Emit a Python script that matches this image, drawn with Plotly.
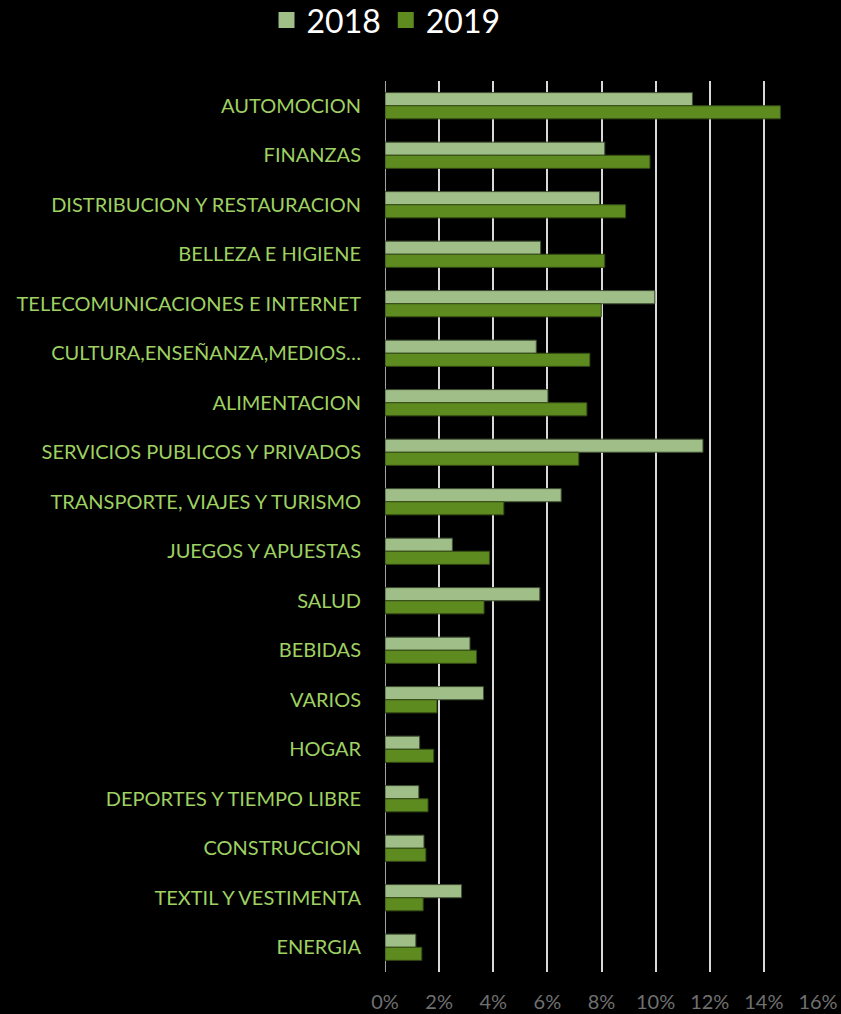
import plotly.graph_objects as go

categories = ["AUTOMOCION", "FINANZAS", "DISTRIBUCION Y RESTAURACION", "BELLEZA E HIGIENE",
              "TELECOMUNICACIONES E INTERNET", "CULTURA,ENSEÑANZA,MEDIOS…", "ALIMENTACION",
              "SERVICIOS PUBLICOS Y PRIVADOS", "TRANSPORTE, VIAJES Y TURISMO", "JUEGOS Y APUESTAS",
              "SALUD", "BEBIDAS", "VARIOS", "HOGAR", "DEPORTES Y TIEMPO LIBRE", "CONSTRUCCION",
              "TEXTIL Y VESTIMENTA", "ENERGIA"]
values_2018 = [11.36, 8.12, 7.93, 5.75, 9.97, 5.59, 6.02, 11.75, 6.51, 2.49,
               5.72, 3.14, 3.64, 1.28, 1.25, 1.44, 2.83, 1.14]
values_2019 = [14.61, 9.79, 8.89, 8.12, 7.99, 7.57, 7.46, 7.16, 4.39, 3.86,
               3.66, 3.38, 1.92, 1.80, 1.59, 1.51, 1.41, 1.36]
x_ticks = [0, 2, 4, 6, 8, 10, 12, 14, 16]
x_tick_labels = ["0%", "2%", "4%", "6%", "8%", "10%", "12%", "14%", "16%"]

c18 = "#A0BE88"
c19 = "#5E8B20"

fig = go.Figure()
fig.add_trace(go.Bar(y=categories, x=values_2018, orientation="h", name="2018",
                     marker=dict(color=c18, line=dict(color="#3F4F32", width=1)),
                     showlegend=False))
fig.add_trace(go.Bar(y=categories, x=values_2019, orientation="h", name="2019",
                     marker=dict(color=c19, line=dict(color="#334A14", width=1)),
                     showlegend=False))
# legend entries with larger square markers
fig.add_trace(go.Scatter(x=[None], y=[None], mode="markers", name="2018",
                         marker=dict(symbol="square", size=21, color=c18)))
fig.add_trace(go.Scatter(x=[None], y=[None], mode="markers", name="2019",
                         marker=dict(symbol="square", size=21, color=c19)))

fig.update_layout(
    width=841, height=1014,
    paper_bgcolor="black", plot_bgcolor="black",
    margin=dict(l=385, r=23, t=81, b=42),
    barmode="group", bargap=0.47, bargroupgap=0,
    font=dict(family="Lato, Open Sans, sans-serif"),
    legend=dict(orientation="h", xref="container", yref="container",
                x=0.459, xanchor="center", y=0.980, yanchor="middle",
                font=dict(size=32, color="white"), itemwidth=30,
                tracegroupgap=10,
                bgcolor="rgba(0,0,0,0)"),
    xaxis=dict(range=[0, 16], tickvals=x_ticks, ticktext=x_tick_labels,
               showgrid=True, gridcolor="#D9D9D9", gridwidth=1.5,
               zeroline=False, showline=False, automargin=False,
               tickfont=dict(size=20, color="#707070"),
               ticks="outside", ticklen=12, tickcolor="rgba(0,0,0,0)"),
    yaxis=dict(autorange="reversed", showgrid=False, zeroline=False, showline=False,
               automargin=False,
               tickfont=dict(size=20, color="#9ED162"),
               ticks="outside", ticklen=19, tickcolor="rgba(0,0,0,0)"),
)
fig.add_shape(type="line", xref="x", yref="paper", x0=0, x1=0, y0=0, y1=1,
              line=dict(color="#D9D9D9", width=1.5), layer="below")

fig.write_html("out.html", config={"displayModeBar": False},
               post_script="document.body.style.margin='0px';document.body.style.overflow='hidden';")
